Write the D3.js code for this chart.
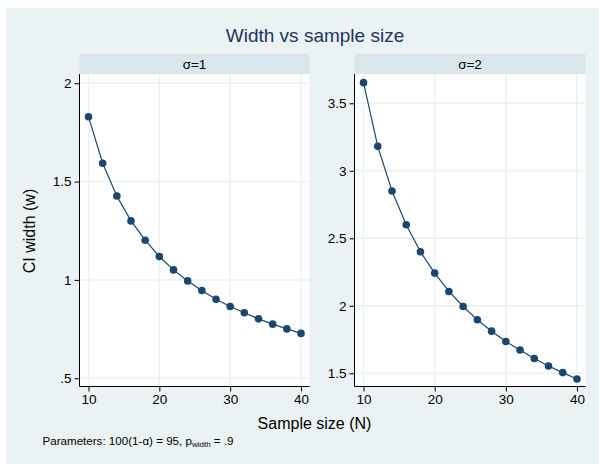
<!DOCTYPE html>
<html>
<head>
<meta charset="utf-8">
<script src="https://cdn.jsdelivr.net/npm/d3@7"></script>
<style>
  html, body { margin: 0; padding: 0; background: #ffffff; }
  svg { display: block; font-family: "Liberation Sans", Arial, Helvetica, sans-serif; }
</style>
</head>
<body>
<svg id="chart" width="599" height="464"></svg>
<script>
// ---- data ----
const sampleSizes = [10, 12, 14, 16, 18, 20, 22, 24, 26, 28, 30, 32, 34, 36, 38, 40];
const widthSigma1 = [1.830, 1.593, 1.427, 1.300, 1.202, 1.119, 1.051, 0.995, 0.946, 0.902, 0.865, 0.833, 0.802, 0.775, 0.751, 0.728];
const widthSigma2 = [3.653, 3.181, 2.850, 2.600, 2.400, 2.242, 2.106, 1.995, 1.896, 1.812, 1.735, 1.672, 1.609, 1.554, 1.505, 1.458];
const panelLabels = ["σ=1", "σ=2"];
const xTicks = [10, 20, 30, 40];
const yTicks1 = [0.5, 1, 1.5, 2];
const yTickLabels1 = [".5", "1", "1.5", "2"];
const yTicks2 = [1.5, 2, 2.5, 3, 3.5];
const yTickLabels2 = ["1.5", "2", "2.5", "3", "3.5"];
const titleText = "Width vs sample size";
const xTitle = "Sample size (N)";
const yTitle = "CI width (w)";

// ---- layout ----
const svg = d3.select("#chart");
const bg = "#EAF2F3", stripFill = "#D9E6EB", gridColor = "#EAF2F3", seriesColor = "#1A476F";
const plotTop = 74, plotBottom = 386.5, stripTop = 54;

svg.append("rect").attr("x", 6).attr("y", 8).attr("width", 593).attr("height", 456).attr("fill", bg);

const panels = [
  { x0: 79.5, x1: 309.5, yDomain: [0.458, 2.047], values: widthSigma1, ticks: yTicks1, labels: yTickLabels1, label: panelLabels[0] },
  { x0: 354.5, x1: 585.5, yDomain: [1.402, 3.717], values: widthSigma2, ticks: yTicks2, labels: yTickLabels2, label: panelLabels[1] }
];

panels.forEach(p => {
  const x = d3.scaleLinear().domain([8.73, 41.2]).range([p.x0, p.x1]);
  const y = d3.scaleLinear().domain(p.yDomain).range([plotBottom, plotTop]);
  const g = svg.append("g");

  // strip
  g.append("rect").attr("x", p.x0).attr("y", stripTop).attr("width", p.x1 - p.x0).attr("height", plotTop - stripTop).attr("fill", stripFill);
  g.append("text").attr("x", (p.x0 + p.x1) / 2).attr("y", 68.5).attr("text-anchor", "middle")
    .attr("font-size", 13.5).attr("fill", "#000").text(p.label);

  // plot region
  g.append("rect").attr("x", p.x0).attr("y", plotTop).attr("width", p.x1 - p.x0).attr("height", plotBottom - plotTop).attr("fill", "#fff");

  // gridlines
  g.selectAll(".gy").data(p.ticks).join("line")
    .attr("x1", p.x0).attr("x2", p.x1).attr("y1", d => y(d)).attr("y2", d => y(d))
    .attr("stroke", gridColor).attr("stroke-width", 1.5);
  g.selectAll(".gx").data(xTicks).join("line")
    .attr("x1", d => x(d)).attr("x2", d => x(d)).attr("y1", plotTop).attr("y2", plotBottom)
    .attr("stroke", gridColor).attr("stroke-width", 1.5);

  // axes
  const yAxis = d3.axisLeft(y).tickValues(p.ticks).tickFormat((d, i) => p.labels[i]).tickSize(5).tickPadding(3);
  const ya = g.append("g").attr("transform", `translate(${p.x0},0)`).call(yAxis);
  ya.select(".domain").attr("d", `M0,${plotTop}V${plotBottom}`).attr("stroke", "#000");
  ya.selectAll("text").attr("font-size", 13.5).attr("fill", "#000");

  const xAxis = d3.axisBottom(x).tickValues(xTicks).tickFormat(d3.format("d")).tickSize(5).tickPadding(3);
  const xa = g.append("g").attr("transform", `translate(0,${plotBottom})`).call(xAxis);
  xa.select(".domain").attr("d", `M${p.x0},0H${p.x1}`).attr("stroke", "#000");
  xa.selectAll("text").attr("font-size", 13.5).attr("fill", "#000");
  [ya, xa].forEach(a => a.attr("font-family", null));

  // series
  const pts = sampleSizes.map((n, i) => [n, p.values[i]]);
  g.append("path").datum(pts)
    .attr("d", d3.line().x(d => x(d[0])).y(d => y(d[1])))
    .attr("fill", "none").attr("stroke", seriesColor).attr("stroke-width", 1.2);
  g.selectAll(".pt").data(pts).join("circle")
    .attr("cx", d => x(d[0])).attr("cy", d => y(d[1])).attr("r", 3.8).attr("fill", seriesColor);
});

// titles
svg.append("text").attr("x", 315).attr("y", 41.5).attr("text-anchor", "middle")
  .attr("font-size", 19).attr("fill", "#1E3560").text(titleText);
svg.append("text").attr("x", 314.5).attr("y", 429).attr("text-anchor", "middle")
  .attr("font-size", 16).attr("fill", "#000").text(xTitle);
svg.append("text").attr("transform", "translate(35,231) rotate(-90)").attr("text-anchor", "middle")
  .attr("font-size", 16).attr("fill", "#000").text(yTitle);

// note
const note = svg.append("text").attr("x", 42.5).attr("y", 445).attr("font-size", 11.6).attr("fill", "#000");
note.append("tspan").text("Parameters: 100(1-α) = 95, p");
note.append("tspan").attr("font-size", 8).attr("dy", 2).text("width");
note.append("tspan").attr("dy", -2).text(" = .9");
</script>
</body>
</html>
